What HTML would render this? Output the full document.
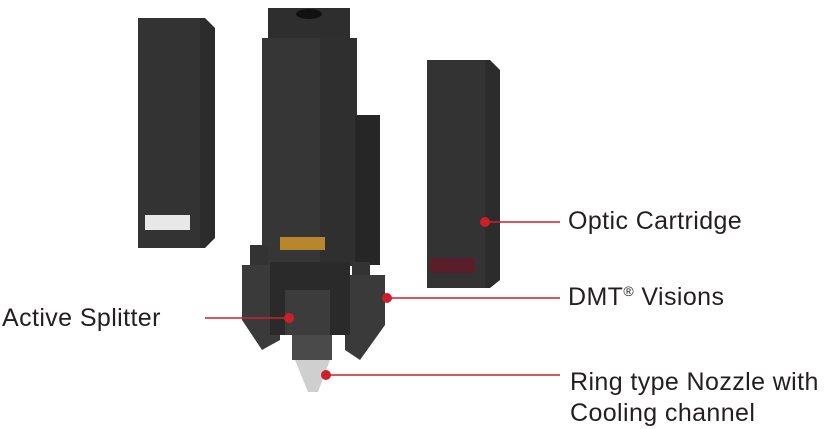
<!DOCTYPE html>
<html><head><meta charset="utf-8"><style>
html,body{margin:0;padding:0;background:#fff;width:833px;height:429px;overflow:hidden}
text{font-family:"Liberation Sans",sans-serif;fill:#231f20;letter-spacing:0.4px}
</style></head><body>
<svg width="833" height="429" viewBox="0 0 833 429" xmlns="http://www.w3.org/2000/svg">
<polygon points="138,18 205,18 215,28 215,238 205,248 138,248" fill="#2c2c2c"/>
<rect x="138" y="18" width="62" height="230" fill="#333"/>
<rect x="145" y="215" width="45" height="15" fill="#e8e8e8"/>
<rect x="268" y="8" width="82" height="30" fill="#2e2e2e"/>
<ellipse cx="309" cy="14" rx="13" ry="5" fill="#111"/>
<rect x="262" y="38" width="95" height="228" fill="#2f2f2f"/>
<rect x="262" y="38" width="58" height="228" fill="#363636"/>
<rect x="355" y="115" width="25" height="150" fill="#262626"/>
<rect x="280" y="237" width="45" height="13" fill="#b8862d"/>
<polygon points="427,60 490,60 500,70 500,280 490,288 427,288" fill="#2c2c2c"/>
<rect x="427" y="60" width="58" height="228" fill="#333"/>
<rect x="430" y="258" width="45" height="15" fill="#5a1e2a"/>
<rect x="250" y="245" width="18" height="25" fill="#333"/>
<rect x="352" y="262" width="18" height="20" fill="#333"/>
<polygon points="242,265 280,265 280,340 262,350 242,320" fill="#3a3a3a"/>
<polygon points="345,275 385,275 385,325 360,360 345,350" fill="#3a3a3a"/>
<rect x="270" y="262" width="80" height="73" fill="#2a2a2a"/>
<rect x="285" y="290" width="45" height="45" fill="#3c3c3c"/>
<rect x="292" y="335" width="40" height="25" fill="#4a4a4a"/>
<polygon points="295,360 330,360 318,392 308,392" fill="#cfcfcf"/>
<g stroke="#cc1f2b" stroke-width="1.6">
<line x1="485" y1="222" x2="560" y2="222"/>
<line x1="387" y1="298" x2="560" y2="298"/>
<line x1="205" y1="318" x2="289" y2="318"/>
<line x1="326" y1="375" x2="560" y2="375"/>
</g>
<g fill="#cc1f2b">
<circle cx="485" cy="222" r="5"/>
<circle cx="387" cy="298" r="5"/>
<circle cx="289" cy="318" r="5"/>
<circle cx="326" cy="375" r="5"/>
</g>
<text x="568" y="229" font-size="25">Optic Cartridge</text>
<text x="568" y="305" font-size="25">DMT<tspan font-size="14" dy="-9">®</tspan><tspan dy="9"> Visions</tspan></text>
<text x="2" y="326" font-size="25">Active Splitter</text>
<text x="570" y="390" font-size="25">Ring type Nozzle with</text>
<text x="570" y="421" font-size="25">Cooling channel</text>
</svg>
</body></html>
